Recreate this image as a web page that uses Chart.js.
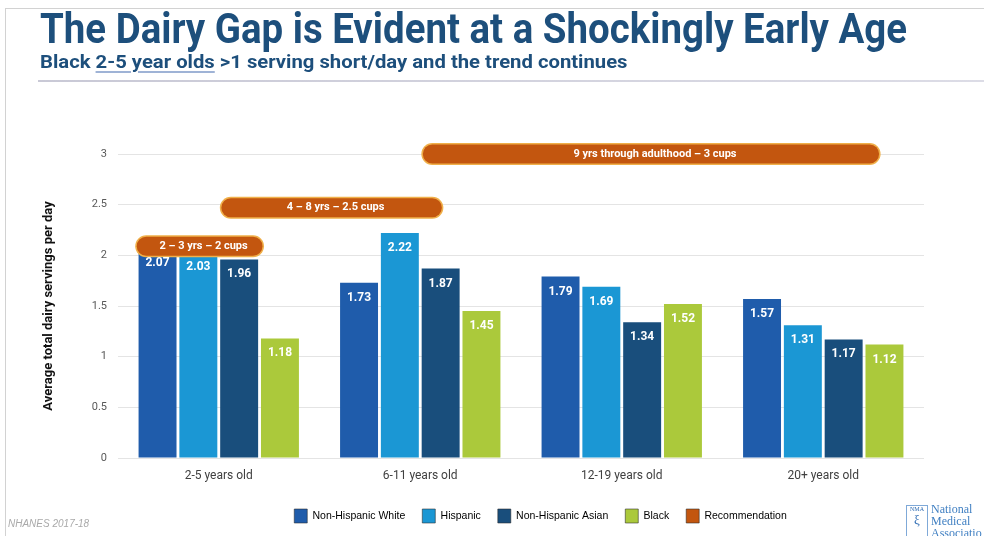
<!DOCTYPE html>
<html>
<head>
<meta charset="utf-8">
<script src="https://cdn.jsdelivr.net/npm/chart.js@4.4.0/dist/chart.umd.min.js"></script>
<style>
  html, body { margin: 0; padding: 0; background: #fff; }
  #wrap { position: relative; width: 984px; height: 536px; overflow: hidden; font-family: Roboto, sans-serif; }
  #frame { position: absolute; left: 5px; top: 8px; right: -5px; bottom: -5px; border-left: 1px solid #d2d2d2; border-top: 1px solid #d2d2d2; }
  #chart { position: absolute; left: 0; top: 0; }
  #title { position: absolute; left: 40px; top: 4px; font-size: 42px; font-weight: 700; color: #1d4f7c; white-space: nowrap; transform-origin: 0 0; }
  #subtitle { position: absolute; left: 40px; top: 51px; font-size: 18.5px; font-weight: 700; color: #1d4f7c; white-space: nowrap; transform-origin: 0 0; }
  #subtitle u { text-decoration-color: #9fb3d6; text-decoration-thickness: 2px; text-underline-offset: 3px; }
  #rule { position: absolute; left: 38px; right: 0; top: 80px; height: 2px; background: linear-gradient(to right, #c9c9d6, #dcdce6); }
  #source { position: absolute; left: 8px; top: 518px; font-size: 10px; font-style: italic; color: #a9a9a9; font-family: "Liberation Sans", sans-serif; }
  #logo { position: absolute; left: 906px; top: 503px; }
  #logo .icon { position: absolute; left: 0; top: 2px; width: 20px; height: 30px; border: 1px solid #7fa9d8; color: #2d6bb3; font-size: 6px; text-align: center; font-family: "Liberation Serif", serif; }
  #logo .txt { position: absolute; left: 25px; top: 0; font-family: "Liberation Serif", serif; font-size: 12px; line-height: 12px; color: #3f7fc2; white-space: nowrap; }
</style>
</head>
<body>
<div id="wrap">
  <div id="frame"></div>
  <canvas id="chart" width="984" height="536"></canvas>
  <div id="title">The Dairy Gap is Evident at a Shockingly Early Age</div>
  <div id="subtitle">Black <u>2-5 year olds</u> &gt;1 serving short/day and the trend continues</div>
  <div id="rule"></div>
  <div id="source">NHANES 2017-18</div>
  <div id="logo"><div class="icon">NMA<br><span style="font-size:13px">ξ</span></div><div class="txt">National<br>Medical<br>Associatio</div></div>
</div>
<script>
// categories and values
const categories = ['2-5 years old', '6-11 years old', '12-19 years old', '20+ years old'];
const whiteVals = [2.07, 1.73, 1.79, 1.57];
const hispanicVals = [2.03, 2.22, 1.69, 1.31];
const asianVals = [1.96, 1.87, 1.34, 1.17];
const blackVals = [1.18, 1.45, 1.52, 1.12];
const seriesNames = ['Non-Hispanic White', 'Hispanic', 'Non-Hispanic Asian', 'Black'];

// recommendation bands (level, span in category units)
const recLabels = ['2 – 3 yrs – 2 cups', '4 – 8 yrs – 2.5 cups', '9 yrs through adulthood – 3 cups'];
const recLevels = [2.09, 2.47, 3.0];
const recFrom = [-0.36, 0.06, 1.06];
const recTo = [0.17, 1.06, 3.23];

const colors = ['#1f5cab', '#1b97d4', '#194e7c', '#abc93b'];
const recColor = '#c3560f';

function fitWidth(id, w) {
  const el = document.getElementById(id);
  el.style.transform = 'scaleX(' + (w / el.offsetWidth) + ')';
}
fitWidth('title', 867);
fitWidth('subtitle', 587);

const barSets = [whiteVals, hispanicVals, asianVals, blackVals].map((vals, i) => ({
  type: 'bar',
  label: seriesNames[i],
  data: vals.map((v, j) => ({ x: j, y: v })),
  backgroundColor: colors[i],
  order: 2
}));

function recLine(k, color, width) {
  return {
    type: 'line',
    label: 'Recommendation',
    data: [{ x: recFrom[k], y: recLevels[k] }, { x: recTo[k], y: recLevels[k] }],
    borderColor: color,
    borderWidth: width,
    borderCapStyle: 'round',
    pointRadius: 0,
    clip: false,
    order: width > 20 ? 1 : 0
  };
}
const recOutline = recLabels.map((lab, k) => recLine(k, '#f0b04a', 22));
const recSets = recLabels.map((lab, k) => recLine(k, recColor, 19));

const labelPlugin = {
  id: 'labels',
  afterLayout(chart) {
    // legend sits right of centre in the original
    chart.legend.left += 60;
    chart.legend.right += 60;
  },
  afterDatasetsDraw(chart) {
    const ctx = chart.ctx;
    ctx.save();
    ctx.fillStyle = '#fff';
    ctx.textAlign = 'center';
    ctx.textBaseline = 'middle';
    ctx.font = 'bold 12px Roboto';
    for (let i = 0; i < 4; i++) {
      chart.getDatasetMeta(i).data.forEach((bar, j) => {
        ctx.fillText(chart.data.datasets[i].data[j].y.toFixed(2), bar.x, bar.y + 15);
      });
    }
    const x = chart.scales.x, y = chart.scales.y;
    ctx.font = 'bold 11px Roboto';
    recLabels.forEach((lab, k) => {
      const cx = (x.getPixelForValue(recFrom[k]) + x.getPixelForValue(recTo[k])) / 2 + 4;
      ctx.fillText(lab, cx, y.getPixelForValue(recLevels[k]));
    });
    ctx.restore();
  }
};

new Chart(document.getElementById('chart'), {
  type: 'bar',
  data: {
    datasets: [...barSets, ...recOutline, ...recSets]
  },
  options: {
    responsive: false,
    animation: false,
    datasets: { bar: { categoryPercentage: 0.81, barPercentage: 0.93 } },
    layout: { padding: { left: 37, right: 60, top: 154, bottom: 3 } },
    plugins: {
      tooltip: { enabled: false },
      legend: {
        position: 'bottom',
        labels: {
          boxWidth: 13,
          boxHeight: 14,
          padding: 17,
          color: '#666',
          font: { family: 'Liberation Sans', size: 10.5 },
          generateLabels: () => [...seriesNames.map((n, i) => ({
            text: n, fillStyle: colors[i], strokeStyle: 'rgba(40,40,40,0.55)', lineWidth: 1, datasetIndex: i
          })), { text: 'Recommendation', fillStyle: recColor, strokeStyle: 'rgba(40,40,40,0.55)', lineWidth: 1, datasetIndex: 10 }]
        }
      }
    },
    scales: {
      x: {
        type: 'linear',
        min: -0.5,
        max: 3.5,
        offset: false,
        grid: { display: false, drawTicks: false, offset: false },
        border: { display: false },
        afterBuildTicks: s => { s.ticks = categories.map((c, i) => ({ value: i })); },
        ticks: { color: '#404040', padding: 11, font: { family: 'Roboto', size: 12 }, callback: v => categories[v] },
        afterFit: s => { s.height = 34; }
      },
      y: {
        min: 0,
        max: 3,
        ticks: { stepSize: 0.5, color: '#595959', padding: 11, font: { family: 'Roboto', size: 11 }, callback: v => String(v) },
        grid: { color: '#e4e4e4', drawTicks: false },
        border: { display: false },
        title: { display: true, text: 'Average total dairy servings per day', color: '#111', font: { family: 'Roboto', size: 13, weight: 'bold' } },
        afterFit: s => { s.width = 81; }
      }
    }
  },
  plugins: [labelPlugin]
});
</script>
</body>
</html>
